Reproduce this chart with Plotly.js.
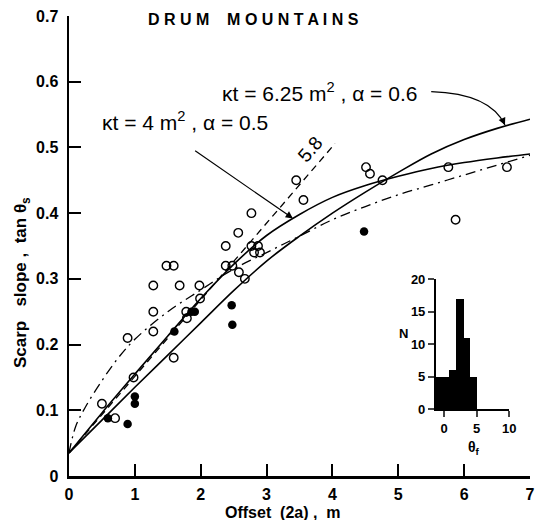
<!DOCTYPE html>
<html><head><meta charset="utf-8">
<script src="https://cdn.plot.ly/plotly-3.0.1.min.js"></script>
<style>body{margin:0;background:#fff}#plot{width:538px;height:520px}</style>
</head><body><div id="plot"></div>
<script>
// Open circles (offset 2a, tan theta_s)
const openX = [0.5,0.7,0.89,0.98,1.28,1.28,1.28,1.48,1.59,1.68,1.59,1.78,1.79,1.98,1.99,2.38,2.38,2.48,2.58,2.67,2.77,2.87,2.81,2.90,2.77,2.57,3.45,3.56,4.51,4.57,4.76,5.76,6.65,5.87];
const openY = [0.11,0.088,0.21,0.15,0.29,0.25,0.22,0.32,0.32,0.29,0.18,0.25,0.24,0.29,0.27,0.35,0.32,0.32,0.31,0.30,0.35,0.35,0.34,0.34,0.40,0.37,0.45,0.42,0.47,0.46,0.45,0.47,0.47,0.39];
// Filled circles
const fillX = [0.59,0.89,1.0,1.0,1.6,1.86,1.91,2.47,2.48,4.48];
const fillY = [0.088,0.079,0.121,0.11,0.22,0.25,0.25,0.26,0.23,0.372];
// Model curves
const curveX = [0,0.5,1,1.5,2,2.5,3,3.5,4,4.5,5,5.5,6,6.5,7];
const kt4Y   = [0.035,0.096,0.155,0.213,0.27,0.322,0.366,0.398,0.424,0.442,0.456,0.468,0.477,0.484,0.49];
const kt625Y = [0.035,0.085,0.135,0.184,0.233,0.282,0.327,0.365,0.400,0.432,0.462,0.490,0.512,0.529,0.543];
const ddX = [0,0.1,0.25,0.5,0.75,1,1.5,2,2.5,3,3.5,4,4.5,5,5.5,6,6.5,7];
const ddY = [0.035,0.075,0.105,0.145,0.18,0.208,0.25,0.283,0.315,0.34,0.365,0.39,0.41,0.428,0.443,0.458,0.473,0.488];
const dashX = [0,4.04];
const dashY = [0.035,0.506];
// Inset histogram of theta_f
const binEdges = [-1.2,0.8,1.9,3.0,4.05,5.1];
const binCounts = [5,6,17,11,5];
// Tick labels
const yTickVals = [0,0.1,0.2,0.3,0.4,0.5,0.6,0.7];
const yTickText = ["0","0.1","0.2","0.3","0.4","0.5","0.6","0.7"];
const xTickVals = [0,1,2,3,4,5,6,7];

const binMid = binCounts.map((c,i)=>(binEdges[i]+binEdges[i+1])/2);
const binW = binCounts.map((c,i)=>binEdges[i+1]-binEdges[i]);

const F = "Liberation Sans, Arial, sans-serif";
const traces = [
  {x:curveX,y:kt4Y,mode:'lines',line:{color:'#000',width:1.6,shape:'spline'},hoverinfo:'skip'},
  {x:curveX,y:kt625Y,mode:'lines',line:{color:'#000',width:1.6,shape:'spline'},hoverinfo:'skip'},
  {x:ddX,y:ddY,mode:'lines',line:{color:'#000',width:1.3,dash:'10px,5px,2px,5px',shape:'spline'},hoverinfo:'skip'},
  {x:dashX,y:dashY,mode:'lines',line:{color:'#000',width:1.3,dash:'7px,5px'},hoverinfo:'skip'},
  {x:openX,y:openY,mode:'markers',marker:{symbol:'circle-open',size:8.5,color:'#000',line:{width:1.4,color:'#000'}}},
  {x:fillX,y:fillY,mode:'markers',marker:{symbol:'circle',size:8.5,color:'#000'}},
  {x:binMid,y:binCounts,width:binW,type:'bar',xaxis:'x2',yaxis:'y2',marker:{color:'#000',line:{width:0}}}
];

const layout = {
  width:538,height:520,showlegend:false,
  paper_bgcolor:'#fff',plot_bgcolor:'rgba(0,0,0,0)',
  margin:{l:69,r:8,t:16,b:44},
  font:{family:F,color:'#000'},
  bargap:0,
  xaxis:{range:[0,7],showgrid:false,zeroline:false,showline:true,linewidth:2.5,linecolor:'#000',
    ticks:'inside',ticklen:12,tickwidth:2,tickcolor:'#000',tickvals:xTickVals,
    tickfont:{size:16,family:F,weight:'bold'},ticklabelstandoff:2},
  yaxis:{range:[0,0.7],showgrid:false,zeroline:false,showline:true,linewidth:2.5,linecolor:'#000',
    ticks:'inside',ticklen:12,tickwidth:2,tickcolor:'#000',tickvals:yTickVals,ticktext:yTickText,
    tickfont:{size:16,family:F,weight:'bold'},ticklabelstandoff:5},
  xaxis2:{domain:[0.796,0.955],anchor:'y2',range:[-1.23,10],showgrid:false,zeroline:false,showline:true,
    linewidth:2,linecolor:'#000',ticks:'outside',ticklen:6,tickwidth:2,tickvals:[0,5,10],
    tickfont:{size:13,family:F,weight:'bold'},ticklabelstandoff:0},
  yaxis2:{domain:[0.145,0.4276],anchor:'x2',range:[0,20],showgrid:false,zeroline:false,showline:true,
    linewidth:2,linecolor:'#000',ticks:'outside',ticklen:6,tickwidth:2,tickvals:[0,5,10,15,20],
    tickfont:{size:13,family:F,weight:'bold'}},
  shapes:[
    {type:'path',xref:'x',yref:'y',path:'M 5.5 0.585 Q 6.4 0.582 6.62 0.534',line:{color:'#000',width:1.3}}
  ],
  annotations:[
    {text:'D R U M    M O U N T A I N S',xref:'paper',yref:'paper',x:(253-69)/461,y:(476-20)/460,showarrow:false,
      font:{size:16,family:F,weight:'bold'},xanchor:'center',yanchor:'middle'},
    {text:'κt = 6.25 m<sup>2</sup> , α = 0.6',xref:'paper',yref:'paper',x:(319-69)/461,y:(476-92)/460,showarrow:false,
      font:{size:21,family:F},xanchor:'center',yanchor:'middle'},
    {text:'κt = 4 m<sup>2</sup> , α = 0.5',xref:'paper',yref:'paper',x:(185-69)/461,y:(476-121)/460,showarrow:false,
      font:{size:21,family:F},xanchor:'center',yanchor:'middle'},
    {text:' ',x:3.40,y:0.392,axref:'x',ayref:'y',ax:1.87,ay:0.498,showarrow:true,arrowhead:2,arrowsize:1.2,arrowwidth:1.2,arrowcolor:'#000'},
    {text:' ',x:6.62,y:0.534,ax:-5,ay:-11,showarrow:true,arrowhead:2,arrowsize:1.2,arrowwidth:1.2,arrowcolor:'#000'},
    {text:'5.8',x:3.66,y:0.497,showarrow:false,textangle:-49,font:{size:19,family:F},xanchor:'center',yanchor:'middle'},
    {text:'Offset  (2a) ,  m',xref:'paper',yref:'paper',x:(283-69)/461,y:(476-512)/460,showarrow:false,
      font:{size:16,family:F,weight:'bold'},xanchor:'center',yanchor:'middle'},
    {text:'Scarp   slope ,  tan θ<sub>s</sub>',xref:'paper',yref:'paper',x:-47/461,y:(476-283)/460,showarrow:false,textangle:-90,
      font:{size:17,family:F,weight:'bold'},xanchor:'center',yanchor:'middle'},
    {text:'N',xref:'paper',yref:'paper',x:(403-69)/461,y:(476-333)/460,showarrow:false,
      font:{size:13,family:F,weight:'bold'},xanchor:'center',yanchor:'middle'},
    {text:'θ<sub>f</sub>',xref:'paper',yref:'paper',x:(474-69)/461,y:(476-437)/460,showarrow:false,
      font:{size:14,family:F,weight:'bold'},xanchor:'center',yanchor:'top'}
  ]
};
Plotly.newPlot('plot',traces,layout,{staticPlot:true});
</script></body></html>
